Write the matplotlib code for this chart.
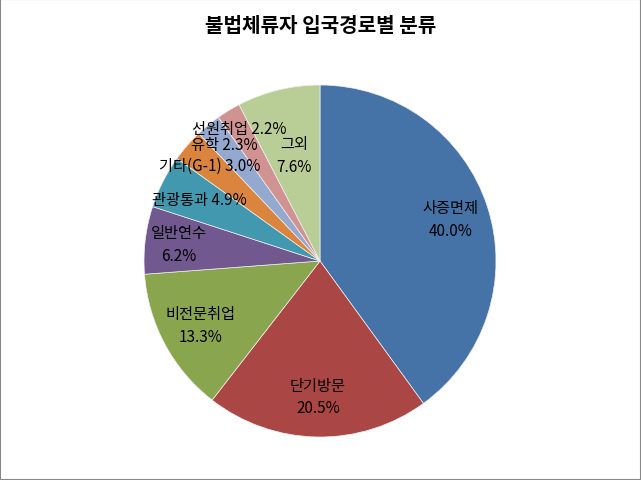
import matplotlib
matplotlib.use("Agg")
import matplotlib.pyplot as plt
import numpy as np
from matplotlib.patches import Rectangle

plt.rcParams['font.family'] = ['Noto Sans CJK KR', 'DejaVu Sans']

categories = ['사증면제', '단기방문', '비전문취업', '일반연수', '관광통과', '기타(G-1)', '유학', '선원취업', '그외']
values = [40.0, 20.5, 13.3, 6.2, 4.9, 3.0, 2.3, 2.2, 7.6]
colors = ['#4572A7', '#AA4643', '#89A54E', '#71588F', '#4198AF', '#DB843D', '#93A9CF', '#D19392', '#B9CD96']
title = '불법체류자 입국경로별 분류'

# label layout: radius fraction and whether two-line
label_r = [0.78, 0.77, 0.77, 0.81, 0.77, 0.83, 0.86, 0.88, 0.62]
two_line = [True, True, True, True, False, False, False, False, True]

fig = plt.figure(figsize=(6.41, 4.81), dpi=100)
fig.patches.append(Rectangle((0, 0), 1, 1, transform=fig.transFigure, fill=False,
                             edgecolor='#888888', linewidth=1.5))
W, H = 641, 481
cx, cy, r = 320, 262, 176
ax = fig.add_axes([(cx - r) / W, (H - cy - r) / H, 2 * r / W, 2 * r / H])
wedges, _ = ax.pie(values, colors=colors, startangle=90, counterclock=False,
                   wedgeprops=dict(edgecolor='#f0f0f0', linewidth=0.5))
ax.set_xlim(-1, 1)
ax.set_ylim(-1, 1)
ax.set_aspect('equal')

for w, name, v, lr, tl in zip(wedges, categories, values, label_r, two_line):
    ang = np.deg2rad((w.theta1 + w.theta2) / 2)
    x, y = lr * np.cos(ang), lr * np.sin(ang)
    txt = f'{name}\n{v:.1f}%' if tl else f'{name} {v:.1f}%'
    ax.text(x, y, txt, ha='center', va='center', fontsize=11, linespacing=1.45, color='black')

fig.text(0.5, 1 - 25 / H, title, ha='center', va='center', fontsize=14.5, fontweight='bold')

fig.savefig('out.png', dpi=100)
